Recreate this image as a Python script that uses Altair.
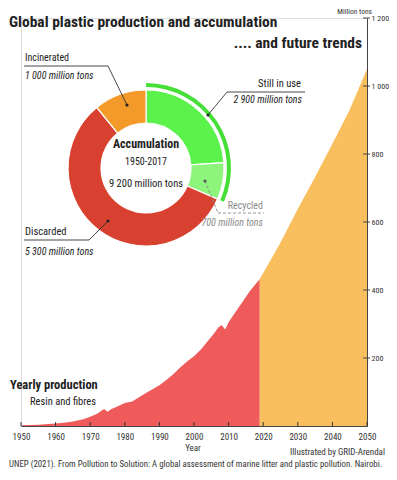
import altair as alt
import pandas as pd

# ---------------- data ----------------
hist_years = [1950, 1955, 1960, 1963, 1965, 1968, 1970, 1972, 1974, 1975, 1976, 1978,
              1980, 1981, 1982, 1984, 1986, 1988, 1990, 1992, 1994, 1996, 1998, 2000,
              2002, 2004, 2006, 2007, 2008, 2009, 2010, 2012, 2014, 2016, 2018, 2019]
hist_values = [2, 4, 7, 10, 13, 20, 27, 36, 50, 42, 49, 58,
               68, 70, 71, 84, 96, 108, 120, 135, 152, 172, 190, 205,
               225, 250, 275, 290, 297, 284, 305, 335, 365, 395, 420, 432]

future_years = [2019, 2022, 2025, 2030, 2035, 2040, 2045, 2050]
future_values = [432, 485, 540, 638, 732, 830, 930, 1050]

acc_categories = ["Still in use", "Recycled", "Discarded", "Incinerated"]
acc_values = [2200, 700, 5300, 1000]
acc_colors = ["#5CF24C", "#8DF57C", "#D8402F", "#F39A2A"]

ring_categories = ["Still in use (incl. recycled)", "Other"]
ring_values = [2900, 6300]
ring_colors = ["#46DF38", "#FFFFFF"]
ring_opacity = [1, 0]

x_ticks = [1950, 1960, 1970, 1980, 1990, 2000, 2010, 2020, 2030, 2040, 2050]
y_ticks = [200, 400, 600, 800, 1000, 1200]

# ---------------- layout ----------------
W, H = 346, 408
OX, OY = 21, 18          # page position of plot origin
FONT = "Liberation Sans Narrow, Roboto Condensed, Liberation Sans, sans-serif"
DARK = "#222222"
GREY = "#8a8a8a"


def px(x):
    return x - OX


def py(y):
    return y - OY


one = pd.DataFrame({"a": [0]})

hist_df = pd.DataFrame({"year": hist_years, "value": hist_values})
fut_df = pd.DataFrame({"year": future_years, "value": future_values})

xscale = alt.Scale(domain=[1950, 2050], nice=False, zero=False)
yscale = alt.Scale(domain=[0, 1200], nice=False)

x_axis = alt.Axis(values=x_ticks, format="d", ticks=False, grid=False,
                  labelFontSize=9, labelFont=FONT, labelColor="#333",
                  labelFontWeight="normal", labelOverlap=False, labelFlush=False,
                  domainColor="#444", labelPadding=6, title=None)
y_axis = alt.Axis(orient="right", values=y_ticks, ticks=False, grid=False,
                  labelFontSize=8, labelFont=FONT, labelColor="#333",
                  labelFontWeight="normal", labelOverlap=False, labelFlush=False,
                  domainColor="#444", labelPadding=4, title=None,
                  labelExpr="replace(format(datum.value, ','), ',', ' ')")

area_hist = alt.Chart(hist_df).mark_area(color="#EF5A5B", interpolate="linear").encode(
    x=alt.X("year:Q", scale=xscale, axis=x_axis),
    y=alt.Y("value:Q", scale=yscale, axis=y_axis),
)
area_future = alt.Chart(fut_df).mark_area(color="#F9BE5D", interpolate="linear").encode(
    x=alt.X("year:Q", scale=xscale, axis=x_axis),
    y=alt.Y("value:Q", scale=yscale, axis=y_axis),
)

xt_df = pd.DataFrame({"year": x_ticks})
xt_rules = alt.Chart(xt_df).mark_rule(color="#333", strokeWidth=1).encode(
    x=alt.X("year:Q", scale=xscale, axis=x_axis), y=alt.value(H), y2=alt.value(H - 4))

yt_df = pd.DataFrame({"value": y_ticks})
yt_rules = alt.Chart(yt_df).mark_rule(color="#444", strokeWidth=1).encode(
    y=alt.Y("value:Q", scale=yscale, axis=y_axis), x=alt.value(W - 4), x2=alt.value(W + 3))

# ---------------- donut ----------------
CX, CY = px(146), py(168)
acc_df = pd.DataFrame({"cat": acc_categories, "value": acc_values,
                       "color": acc_colors, "ord": [0, 1, 2, 3]})
donut = alt.Chart(acc_df).mark_arc(innerRadius=45, outerRadius=78,
                                   stroke="white", strokeWidth=1.2).encode(
    theta=alt.Theta("value:Q", stack=True),
    order=alt.Order("ord:Q"),
    color=alt.Color("color:N", scale=None),
    x=alt.value(CX), y=alt.value(CY),
)
ring_df = pd.DataFrame({"cat": ring_categories, "value": ring_values,
                        "color": ring_colors, "op": ring_opacity, "ord": [0, 1]})
ring = alt.Chart(ring_df).mark_arc(innerRadius=81, outerRadius=85).encode(
    theta=alt.Theta("value:Q", stack=True),
    order=alt.Order("ord:Q"),
    color=alt.Color("color:N", scale=None),
    opacity=alt.Opacity("op:Q", scale=None),
    x=alt.value(CX), y=alt.value(CY),
)


# ---------------- annotations ----------------
def text(t, x, y, size=10, weight="normal", style="normal", align="left",
         color=DARK, baseline="alphabetic"):
    return alt.Chart(one).mark_text(
        text=t, font=FONT, fontSize=size, fontWeight=weight, fontStyle=style,
        align=align, baseline=baseline, color=color
    ).encode(x=alt.value(px(x)), y=alt.value(py(y)))


def line(x1, y1, x2, y2, color="#333", dash=None, width=0.9):
    kw = dict(color=color, strokeWidth=width)
    if dash:
        kw["strokeDash"] = dash
    return alt.Chart(one).mark_rule(**kw).encode(
        x=alt.value(px(x1)), y=alt.value(py(y1)),
        x2=alt.value(px(x2)), y2=alt.value(py(y2)))


def dot(x, y, color="#222"):
    return alt.Chart(one).mark_circle(size=10, color=color, opacity=1).encode(
        x=alt.value(px(x)), y=alt.value(py(y)))


annots = [
    text("Global plastic production and accumulation", 9, 27, size=15.5, weight="bold"),
    text(".... and future trends", 362, 48, size=15.5, weight="bold", align="right"),
    text("Million tons", 372, 13.5, size=7.5, align="right", color="#333"),
    # Incinerated
    text("Incinerated", 25, 61, size=10),
    line(24, 66, 108, 66), line(108, 66, 127, 105), dot(127, 105),
    text("1 000 million tons", 25, 79, size=10, style="italic"),
    # Still in use
    text("Still in use", 301, 87, size=10.5, align="right"),
    line(227, 92, 305, 92), line(227, 92, 208, 115), dot(208, 115),
    text("2 900 million tons", 302, 103, size=10, style="italic", align="right"),
    # Recycled
    text("Recycled", 263, 209, size=10, align="right", color=GREY),
    line(205, 181, 218, 213, color=GREY, dash=[3, 2]),
    line(218, 213, 264, 213, color=GREY, dash=[3, 2]),
    dot(205, 181, color="#555"),
    text("700 million tons", 263, 226, size=10, style="italic", align="right", color=GREY),
    # Discarded
    text("Discarded", 25, 235, size=10.5),
    line(24, 240, 89, 240), line(89, 240, 108, 221), dot(108, 221),
    text("5 300  million tons", 25, 255, size=10, style="italic"),
    # Centre
    text("Accumulation", 146, 148, size=12, weight="bold", align="center"),
    text("1950-2017", 146, 165, size=10, align="center"),
    text("9 200 million tons", 146, 187, size=10.5, align="center"),
    # Yearly production
    text("Yearly production", 10, 389, size=12.5, weight="bold"),
    text("Resin and fibres", 30, 405, size=10.5),
    # Bottom
    text("Year", 193, 451, size=9, align="center", color="#333"),
    text("Illustrated by GRID-Arendal", 385, 455, size=9, align="right", color="#333"),
    text("UNEP (2021). From Pollution to Solution: A global assessment of marine litter and plastic pollution. Nairobi.",
         9, 467, size=8.8, color="#333"),
]

chart = alt.layer(area_hist, area_future, xt_rules, yt_rules, ring, donut, *annots).properties(
    width=W, height=H,
    autosize=alt.AutoSizeParams(type="none"),
    padding={"left": OX - 8, "top": OY - 8, "right": 397 - 16 - (OX - 8) - W, "bottom": 464 - (OY - 8) - H},
).configure_view(stroke=None).configure_axis(labelOverlap=False).configure(background="white")

chart.save("out.html", embed_options={"renderer": "svg", "actions": False})
